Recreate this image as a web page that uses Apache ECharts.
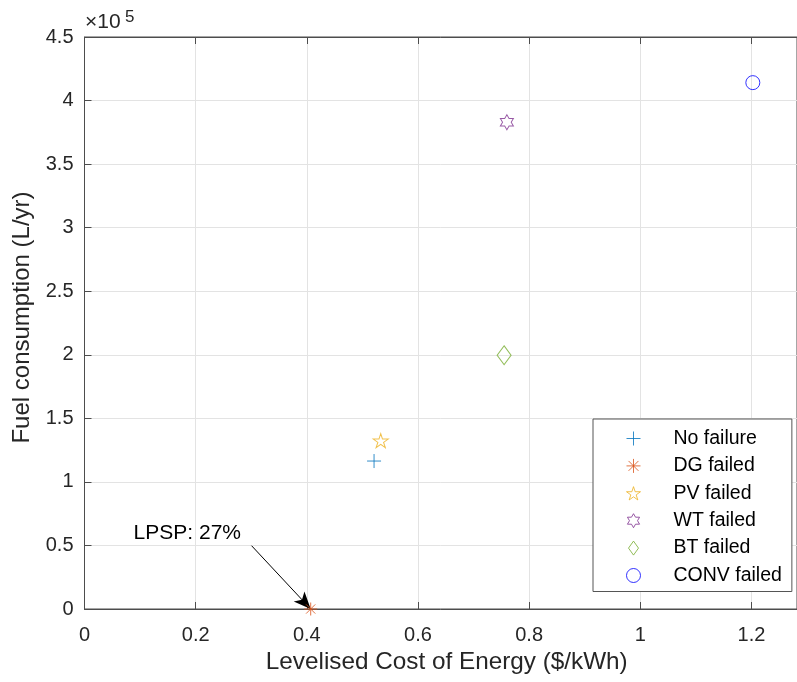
<!DOCTYPE html>
<html>
<head>
<meta charset="utf-8">
<script src="https://cdn.jsdelivr.net/npm/echarts@6/dist/echarts.min.js"></script>
<style>html,body{margin:0;padding:0;background:#fff;overflow:hidden;}#c{width:797px;height:682px;}</style>
</head>
<body>
<div id="c"></div>
<script>
// ---- data ----
const seriesNames = ['No failure', 'DG failed', 'PV failed', 'WT failed', 'BT failed', 'CONV failed'];
const lcoe = [0.521, 0.407, 0.533, 0.760, 0.755, 1.2025];          // $/kWh
const fuel = [116400, 0, 132400, 382900, 199600, 414100];          // L/yr
const xTicks = [0, 0.2, 0.4, 0.6, 0.8, 1, 1.2];
const yTicks = [0, 0.5, 1, 1.5, 2, 2.5, 3, 3.5, 4, 4.5];           // x 10^5
const annotationText = 'LPSP: 27%';
const annotationTextPos = [0.185, 59800];
const arrowStart = [0.3006, 49800];
const arrowEnd = [0.407, 0];

// ---- styling ----
const FONT = '"Liberation Sans", Arial, Helvetica, sans-serif';
const TXT = '#262626';
const colors = ['#0072BD', '#D95319', '#EDB120', '#7E2F8E', '#77AC30', '#0000FF'];
const symbols = [
  'path://M0,10 L20,10 M10,0 L10,20',
  'path://M0,10 L20,10 M10,0 L10,20 M2.93,2.93 L17.07,17.07 M17.07,2.93 L2.93,17.07',
  'path://M10,0 L12.245,6.91 L19.51,6.91 L13.633,11.18 L15.878,18.09 L10,13.82 L4.122,18.09 L6.367,11.18 L0.49,6.91 L7.755,6.91 Z',
  'path://M10,0 L12.887,5 L18.66,5 L15.77,10 L18.66,15 L12.887,15 L10,20 L7.113,15 L1.34,15 L4.23,10 L1.34,5 L7.113,5 Z',
  'path://M10,0 L20,14 L10,28 L0,14 Z',
  'circle'
];
const sizes = [[14,14],[13,13],[15,14],[13,15],[14,19],[14,14]];

// visible part of the x range (the plot box continues past the right edge)
const XMIN = 0, XMAX = 1.282;
function xFmt(v){
  const k = v / 0.2;
  if (Math.abs(k - Math.round(k)) > 1e-6) return '';
  return String(+v.toFixed(1));
}

const series = seriesNames.map((name, i) => {
  const s = {
    name: name,
    type: 'scatter',
    data: [[lcoe[i], fuel[i]]],
    symbol: symbols[i],
    symbolSize: sizes[i],
    symbolKeepAspect: false,
    itemStyle: { color: 'rgba(0,0,0,0)', borderColor: colors[i], borderWidth: 1 },
    emphasis: { disabled: true },
    z: 5
  };
  if (i === 1) {
    s.markLine = {
      silent: true,
      symbol: ['none', 'arrow'],
      symbolSize: [11, 17],
      lineStyle: { color: '#000', width: 1, type: 'solid' },
      label: { show: false },
      data: [[{ coord: arrowStart }, { coord: arrowEnd }]],
      z: 4
    };
    s.markPoint = {
      silent: true,
      symbol: 'circle',
      symbolSize: 0,
      data: [{ coord: annotationTextPos }],
      label: { show: true, position: 'inside', formatter: annotationText,
               color: '#000', fontFamily: FONT, fontSize: 21 }
    };
  }
  return s;
});

const chart = echarts.init(document.getElementById('c'), null, { renderer: 'canvas' });
chart.setOption({
  animation: false,
  backgroundColor: '#fff',
  grid: { left: 84.5, top: 37, right: 0, bottom: 73, show: true, borderColor: '#4d4d4d', borderWidth: 1, containLabel: false },
  xAxis: [{
    type: 'value', min: XMIN, max: XMAX, interval: 0.2,
    name: 'Levelised Cost of Energy ($/kWh)', nameLocation: 'middle', nameGap: 32,
    nameTextStyle: { fontFamily: FONT, fontSize: 24.3, color: TXT, padding: [0, 0, 0, 12] },
    axisLine: { show: true, onZero: false, lineStyle: { color: '#4d4d4d', width: 1 } },
    axisTick: { show: true, inside: true, length: 7, lineStyle: { color: '#4d4d4d' } },
    axisLabel: { formatter: xFmt, fontFamily: FONT, fontSize: 20, color: TXT, margin: 16, showMaxLabel: false },
    splitLine: { show: true, lineStyle: { color: '#e3e3e3', width: 1 } }
  }, {
    type: 'value', min: XMIN, max: XMAX, interval: 0.2, position: 'top',
    axisLine: { show: true, onZero: false, lineStyle: { color: '#4d4d4d', width: 1 } },
    axisTick: { show: true, inside: true, length: 7, lineStyle: { color: '#4d4d4d' } },
    axisLabel: { show: false },
    splitLine: { show: false }
  }],
  yAxis: [{
    type: 'value', min: 0, max: 450000, interval: 50000,
    name: 'Fuel consumption (L/yr)', nameLocation: 'middle', nameGap: 41,
    nameTextStyle: { fontFamily: FONT, fontSize: 24, color: TXT, padding: [0, 0, 0, 11] },
    axisLine: { show: true, onZero: false, lineStyle: { color: '#4d4d4d', width: 1 } },
    axisTick: { show: true, inside: true, length: 7, lineStyle: { color: '#4d4d4d' } },
    axisLabel: { formatter: v => String(+(v / 1e5).toFixed(1)), fontFamily: FONT, fontSize: 20, color: TXT, margin: 11 },
    splitLine: { show: true, lineStyle: { color: '#e3e3e3', width: 1 } }
  }],
  legend: {
    orient: 'vertical',
    left: 593, top: 419,
    padding: [9.5, 10, 6, 33],
    itemWidth: 14, itemHeight: 14, itemGap: 7.4,
    backgroundColor: '#fff',
    borderColor: '#555', borderWidth: 1, borderRadius: 0,
    symbolKeepAspect: true,
    itemStyle: { borderWidth: 1 },
    textStyle: { fontFamily: FONT, fontSize: 19.5, color: '#000', padding: [0, 0, 0, 28] },
    data: seriesNames,
    selectedMode: false
  },
  graphic: [
    { type: 'text', left: 85, top: 12, style: { text: '×10', fontFamily: FONT, fontSize: 21, fill: TXT } },
    { type: 'text', left: 125, top: 9, style: { text: '5', fontFamily: FONT, fontSize: 17, fill: TXT } }
  ],
  series: series
});
</script>
</body>
</html>
